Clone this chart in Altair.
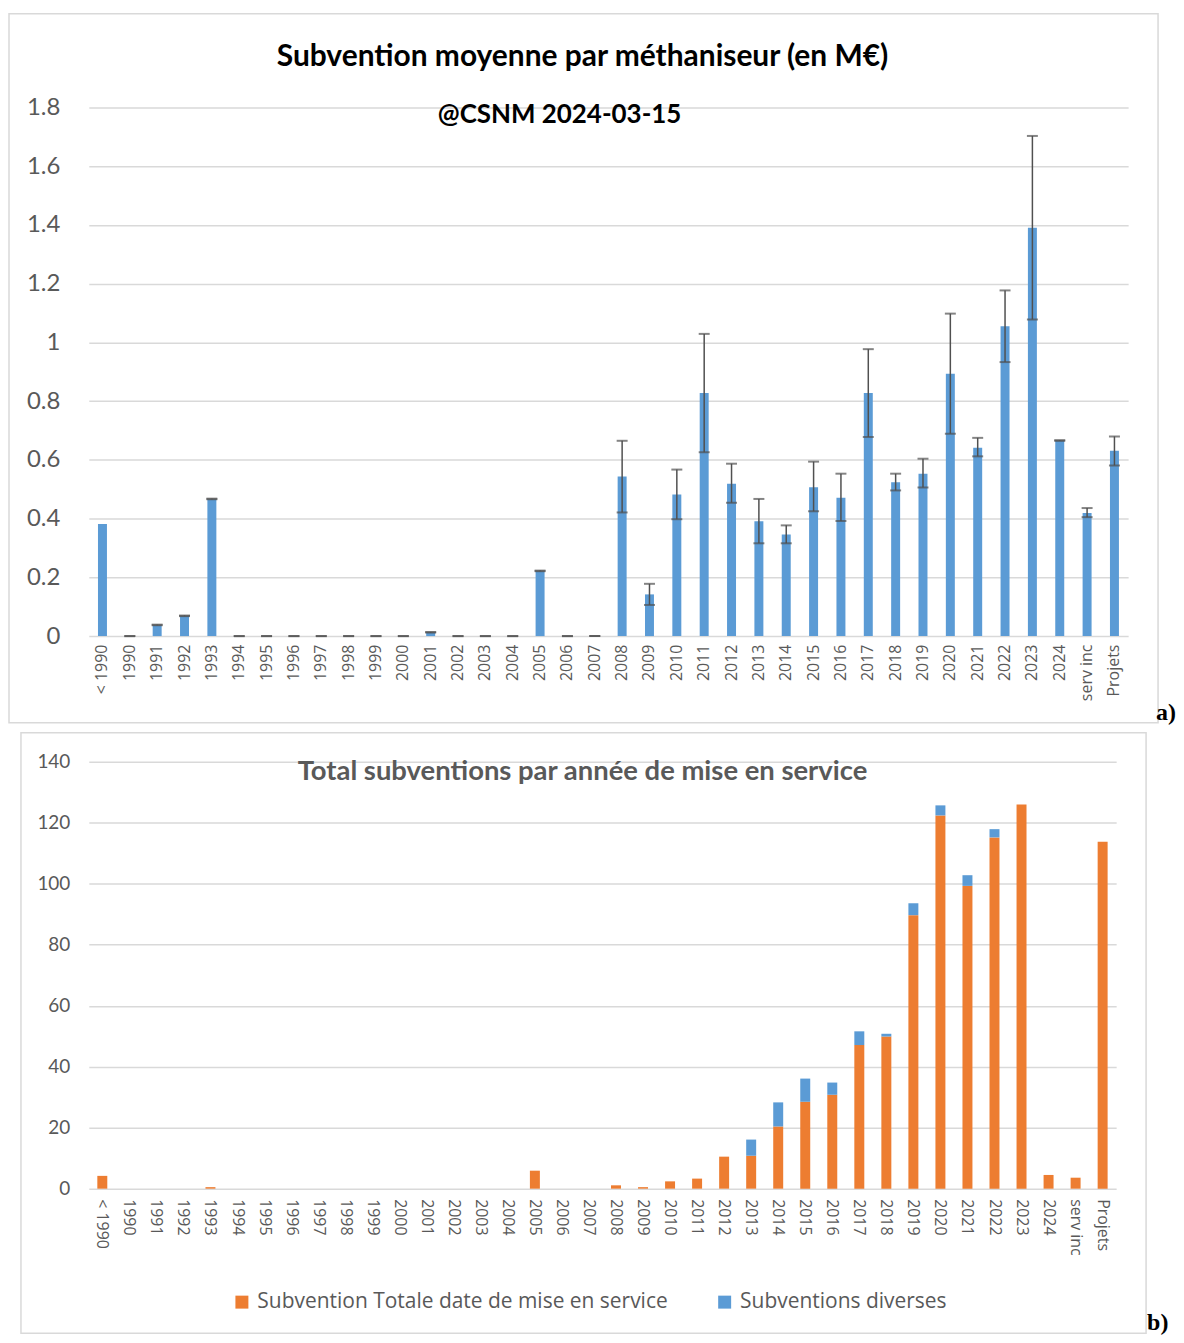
import altair as alt
import pandas as pd

# ---------------- data ----------------
categories = ["< 1990", "1990", "1991", "1992", "1993", "1994", "1995", "1996", "1997",
              "1998", "1999", "2000", "2001", "2002", "2003", "2004", "2005", "2006",
              "2007", "2008", "2009", "2010", "2011", "2012", "2013", "2014", "2015",
              "2016", "2017", "2018", "2019", "2020", "2021", "2022", "2023", "2024",
              "serv inc", "Projets"]

# chart a) mean subsidy per digester (M€) and its error bar ends
mean_values = [0.382, 0, 0.037, 0.068, 0.466, 0, 0, 0, 0, 0, 0, 0, 0.012, 0, 0, 0,
               0.221, 0, 0, 0.543, 0.142, 0.482, 0.828, 0.519, 0.391, 0.346, 0.507,
               0.471, 0.828, 0.524, 0.553, 0.893, 0.641, 1.055, 1.390, 0.665, 0.419, 0.631]
err_low = [None, 0, 0.037, 0.068, 0.466, 0, 0, 0, 0, 0, 0, 0, 0.012, 0, 0, 0,
           0.221, 0, 0, 0.421, 0.106, 0.398, 0.626, 0.454, 0.316, 0.316, 0.425,
           0.392, 0.678, 0.496, 0.506, 0.689, 0.612, 0.933, 1.078, 0.665, 0.405, 0.581]
err_high = [None, 0, 0.039, 0.070, 0.468, 0, 0, 0, 0, 0, 0, 0, 0.014, 0, 0, 0,
            0.223, 0, 0, 0.665, 0.178, 0.567, 1.029, 0.587, 0.467, 0.377, 0.594,
            0.553, 0.977, 0.553, 0.604, 1.098, 0.675, 1.177, 1.703, 0.667, 0.436, 0.680]

# chart b) totals per year (M€)
series_names = ["Subvention Totale date de mise en service", "Subventions diverses"]
total_values = [4.2, 0, 0, 0, 0.5, 0, 0, 0, 0, 0, 0, 0, 0, 0, 0, 0,
                5.9, 0, 0, 1.1, 0.5, 2.4, 3.3, 10.5, 10.8, 20.4, 28.5,
                30.8, 47.1, 49.9, 89.7, 122.4, 99.3, 115.2, 126.0, 4.5, 3.6, 113.8]
diverses_values = [0, 0, 0, 0, 0, 0, 0, 0, 0, 0, 0, 0, 0, 0, 0, 0,
                   0, 0, 0, 0, 0, 0, 0, 0, 5.3, 7.9, 7.6,
                   4.0, 4.5, 0.9, 3.9, 3.3, 3.5, 2.7, 0, 0, 0, 0]

top_y_ticks = [0, 0.2, 0.4, 0.6, 0.8, 1.0, 1.2, 1.4, 1.6, 1.8]
bottom_y_ticks = [0, 20, 40, 60, 80, 100, 120, 140]

title_a = "Subvention moyenne par méthaniseur (en M€)"
subtitle_a = "@CSNM 2024-03-15"
title_b = "Total subventions par année de mise en service"
tag_a = "a)"
tag_b = "b)"

# ---------------- styling ----------------
BLUE = "#5B9BD5"
ORANGE = "#ED7D31"
GRID = "#d9d9d9"
LABEL = "#595959"
ERR = "#505050"

df_top = pd.DataFrame({"cat": categories, "mean": mean_values, "lo": err_low, "hi": err_high})
rows = []
for c, t, d in zip(categories, total_values, diverses_values):
    rows.append({"cat": c, "series": series_names[0], "value": t, "ord": 0})
    rows.append({"cat": c, "series": series_names[1], "value": d, "ord": 1})
df_bot = pd.DataFrame(rows)

one = pd.DataFrame({"k": [0]})

# ---------------- chart a ----------------
W1, H1 = 1042, 530
x_top = alt.X("cat:N", sort=categories,
              scale=alt.Scale(paddingInner=0, paddingOuter=0),
              axis=alt.Axis(title=None, labelAngle=270, labelFont="Open Sans",
                            labelFontSize=16, labelColor=LABEL, ticks=False,
                            domain=False, labelPadding=8, grid=False))
y_top_axis = alt.Axis(title=None, values=top_y_ticks, format=".1~f", grid=True,
                      gridColor=GRID, gridWidth=1.5, ticks=False, domain=False,
                      labelFont="Lato", labelFontSize=24, labelColor=LABEL,
                      labelPadding=29)

box_a = alt.Chart(one).mark_rect(filled=False, stroke=GRID, strokeWidth=1.5).encode(
    x=alt.value(-80), x2=alt.value(1072), y=alt.value(-94), y2=alt.value(617))

bars_a = alt.Chart(df_top).mark_bar(size=9, color=BLUE).encode(
    x=x_top,
    y=alt.Y("mean:Q", scale=alt.Scale(domain=[0, 1.8]), axis=y_top_axis))

err_base = alt.Chart(df_top).transform_filter("isValid(datum.lo)")
err_rule = err_base.mark_rule(color=ERR, strokeWidth=1.5).encode(
    x=alt.X("cat:N", sort=categories), y="lo:Q", y2="hi:Q")
cap_lo = err_base.mark_tick(color=ERR, size=11, thickness=2).encode(
    x=alt.X("cat:N", sort=categories), y="lo:Q")
cap_hi = err_base.mark_tick(color=ERR, size=11, thickness=2).encode(
    x=alt.X("cat:N", sort=categories), y="hi:Q")

t_title_a = alt.Chart(pd.DataFrame({"t": [title_a]})).mark_text(
    font="Lato", fontSize=30, fontWeight="bold", color="#000000",
    align="center", baseline="middle").encode(
    text="t:N", x=alt.value(495), y=alt.value(-51))
t_sub_a = alt.Chart(pd.DataFrame({"t": [subtitle_a]})).mark_text(
    font="Lato", fontSize=26, fontWeight="bold", color="#000000",
    align="center", baseline="middle").encode(
    text="t:N", x=alt.value(472), y=alt.value(8))
t_tag_a = alt.Chart(pd.DataFrame({"t": [tag_a]})).mark_text(
    font="Liberation Serif", fontSize=24, fontWeight="bold", color="#000000",
    align="left", baseline="bottom").encode(
    text="t:N", x=alt.value(1070), y=alt.value(619))

chart_a = alt.layer(box_a, bars_a, err_rule, cap_lo, cap_hi,
                    t_title_a, t_sub_a, t_tag_a).properties(width=W1, height=H1)

# ---------------- chart b ----------------
W2, H2 = 1030, 428
x_bot = alt.X("cat:N", sort=categories,
              scale=alt.Scale(paddingInner=0, paddingOuter=0),
              axis=alt.Axis(title=None, labelAngle=90, labelFont="Open Sans",
                            labelFontSize=16, labelColor=LABEL, ticks=False,
                            domain=False, labelPadding=10, grid=False))
y_bot_axis = alt.Axis(title=None, values=bottom_y_ticks, grid=True,
                      gridColor=GRID, gridWidth=1.5, ticks=False, domain=False,
                      labelFont="Lato", labelFontSize=19, labelColor=LABEL,
                      labelPadding=19)

box_b = alt.Chart(one).mark_rect(filled=False, stroke=GRID, strokeWidth=1.5).encode(
    x=alt.value(-68), x2=alt.value(1060), y=alt.value(-29), y2=alt.value(573))

bars_b = alt.Chart(df_bot).mark_bar(size=10).encode(
    x=x_bot,
    y=alt.Y("value:Q", stack="zero", scale=alt.Scale(domain=[0, 140]), axis=y_bot_axis),
    color=alt.Color("series:N",
                    scale=alt.Scale(domain=series_names, range=[ORANGE, BLUE]),
                    legend=alt.Legend(title=None, orient="none", legendX=143, legendY=531,
                                      direction="horizontal", symbolType="square",
                                      symbolSize=169, symbolStrokeWidth=0,
                                      labelFont="Open Sans", labelFontSize=21,
                                      labelColor=LABEL, labelLimit=700,
                                      columnPadding=46, labelOffset=5)),
    order=alt.Order("ord:Q"))

t_title_b = alt.Chart(pd.DataFrame({"t": [title_b]})).mark_text(
    font="Lato", fontSize=27.5, fontWeight="bold", color=LABEL,
    align="center", baseline="middle").encode(
    text="t:N", x=alt.value(495), y=alt.value(10))
t_tag_b = alt.Chart(pd.DataFrame({"t": [tag_b]})).mark_text(
    font="Liberation Serif", fontSize=24, fontWeight="bold", color="#000000",
    align="left", baseline="bottom").encode(
    text="t:N", x=alt.value(1061), y=alt.value(575))

chart_b = alt.layer(box_b, bars_b, t_title_b, t_tag_b).properties(width=W2, height=H2)

chart = alt.vconcat(chart_a, chart_b, spacing=7).resolve_scale(
    x="independent", y="independent", color="independent"
).properties(
    padding={"left": 0, "top": 3, "right": 0, "bottom": 0}
).configure(background="white", view=alt.ViewConfig(stroke="transparent", strokeWidth=0))

chart.save("out.html", embed_options={"renderer": "svg", "actions": False})
